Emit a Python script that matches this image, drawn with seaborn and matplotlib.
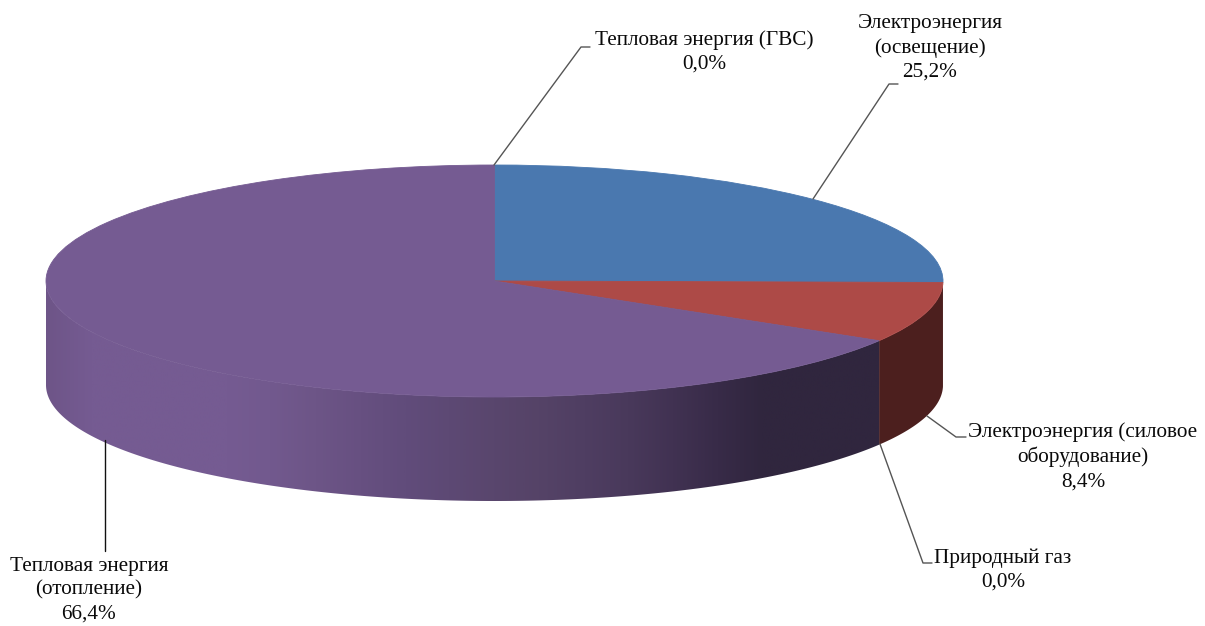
"""
3D-looking pie of energy consumption shares.
"""

import numpy as np
import matplotlib
matplotlib.use('Agg')
import matplotlib.pyplot as plt
from matplotlib.patches import Polygon
from matplotlib.transforms import Affine2D
import seaborn as sns

W, H = 1205, 626

slice_names = ["Электроэнергия\n(освещение)", "Электроэнергия (силовое\nоборудование)",
               "Природный газ", "Тепловая энергия\n(отопление)", "Тепловая энергия (ГВС)"]
shares = [25.2, 8.4, 0.0, 66.4, 0.0]
top_colors = ['#4A78AF', '#AD4A47', '#8FAB52', '#755B92', '#4B9FB5']
wall_colors = ['#27405E', '#4C1F1E', '#4C5C2B', '#755B92', '#285562']

# wall shading of the big slice, evenly spaced from left edge to right edge
wall_stops = ['#6E5588', '#755B92', '#755B92', '#755B92', '#755B92', '#72598E',
              '#6D5587', '#675081', '#614C7B', '#5D4974', '#59466D', '#554367',
              '#4F3E62', '#49395B', '#413252', '#382B48', '#30263E', '#30263E',
              '#30263E', '#30263E', '#30263E']

# centre of the ellipse, radii and wall height, in pixels of the picture
CX, CY = 494.5, 281
RX, RY = 448.5, 116
DEPTH = 104 / RY

label_pos = [(930, 48), (1083, 456.5), (1003, 570), (89, 590), (704, 52)]
leaders = [
    [(813, 199), (889, 84), (898, 84)],
    [(927, 416), (956, 437), (966, 437)],
    [(880, 444), (923, 563), (932, 563)],
    [(105, 440), (105, 551)],
    [(494, 165), (581, 47), (590, 47)],
]
leader_colors = ['#555555', '#555555', '#555555', '#111111', '#555555']

sns.set_theme(style="white")
plt.rcParams['font.family'] = ['Liberation Serif', 'DejaVu Serif']

fig = plt.figure(figsize=(W / 100, H / 100), dpi=100, facecolor='white')
ax = fig.add_axes([0, 0, 1, 1])

# picture pixels, y going down
px = Affine2D().scale(1, -1).translate(0, H)

# walls first, the pie lies over them
bounds = np.cumsum([0] + shares) / sum(shares) * 2 * np.pi
for i, share in enumerate(shares):
    start = max(bounds[i], np.pi / 2)
    stop = min(bounds[i + 1], 3 * np.pi / 2)
    if share == 0 or stop <= start:
        continue
    t = np.linspace(start, stop, 200)
    xs, ys = np.sin(t), np.cos(t)
    outline = np.vstack([np.column_stack([xs, ys]),
                         np.column_stack([xs[::-1], ys[::-1] - DEPTH])])
    wall = Polygon(outline, closed=True, facecolor=wall_colors[i], edgecolor='none', zorder=0.5)
    ax.add_patch(wall)
    if i == 3:
        shade = sns.blend_palette(wall_stops, n_colors=512)
        img = ax.imshow(np.array(shade)[np.newaxis, :, :], extent=(-1, 1, -1 - DEPTH, 1),
                        aspect='auto', interpolation='bilinear', zorder=0.6)
        img.set_clip_path(wall)
        wall.set_facecolor('none')

wedges, _ = ax.pie(shares, colors=top_colors, startangle=90, counterclock=False, radius=1, center=(0, 0))
for wedge, share in zip(wedges, shares):
    wedge.set_zorder(1)
    # edge in the slice colour hides the white fringe, empty slices stay invisible
    wedge.set_edgecolor(wedge.get_facecolor())
    wedge.set_linewidth(0.6 if share > 0 else 0)

ax.set_aspect('auto')
ax.set_xlim(-CX / RX, (W - CX) / RX)
ax.set_ylim((CY - H) / RY, CY / RY)
ax.axis('off')

for path, color in zip(leaders, leader_colors):
    pts = np.array(path)
    ax.plot(pts[:, 0], pts[:, 1], color=color, linewidth=1.0, transform=px, zorder=3, clip_on=False)

for name, share, (x, y) in zip(slice_names, shares, label_pos):
    text = name + "\n" + f"{share:.1f}%".replace('.', ',')
    ax.text(x, y, text, ha='center', va='center', fontsize=15.3, color='#0A0A0A', linespacing=1.34,
            transform=px, zorder=4)

fig.savefig('out.png', dpi=100, facecolor='white')
plt.close(fig)
